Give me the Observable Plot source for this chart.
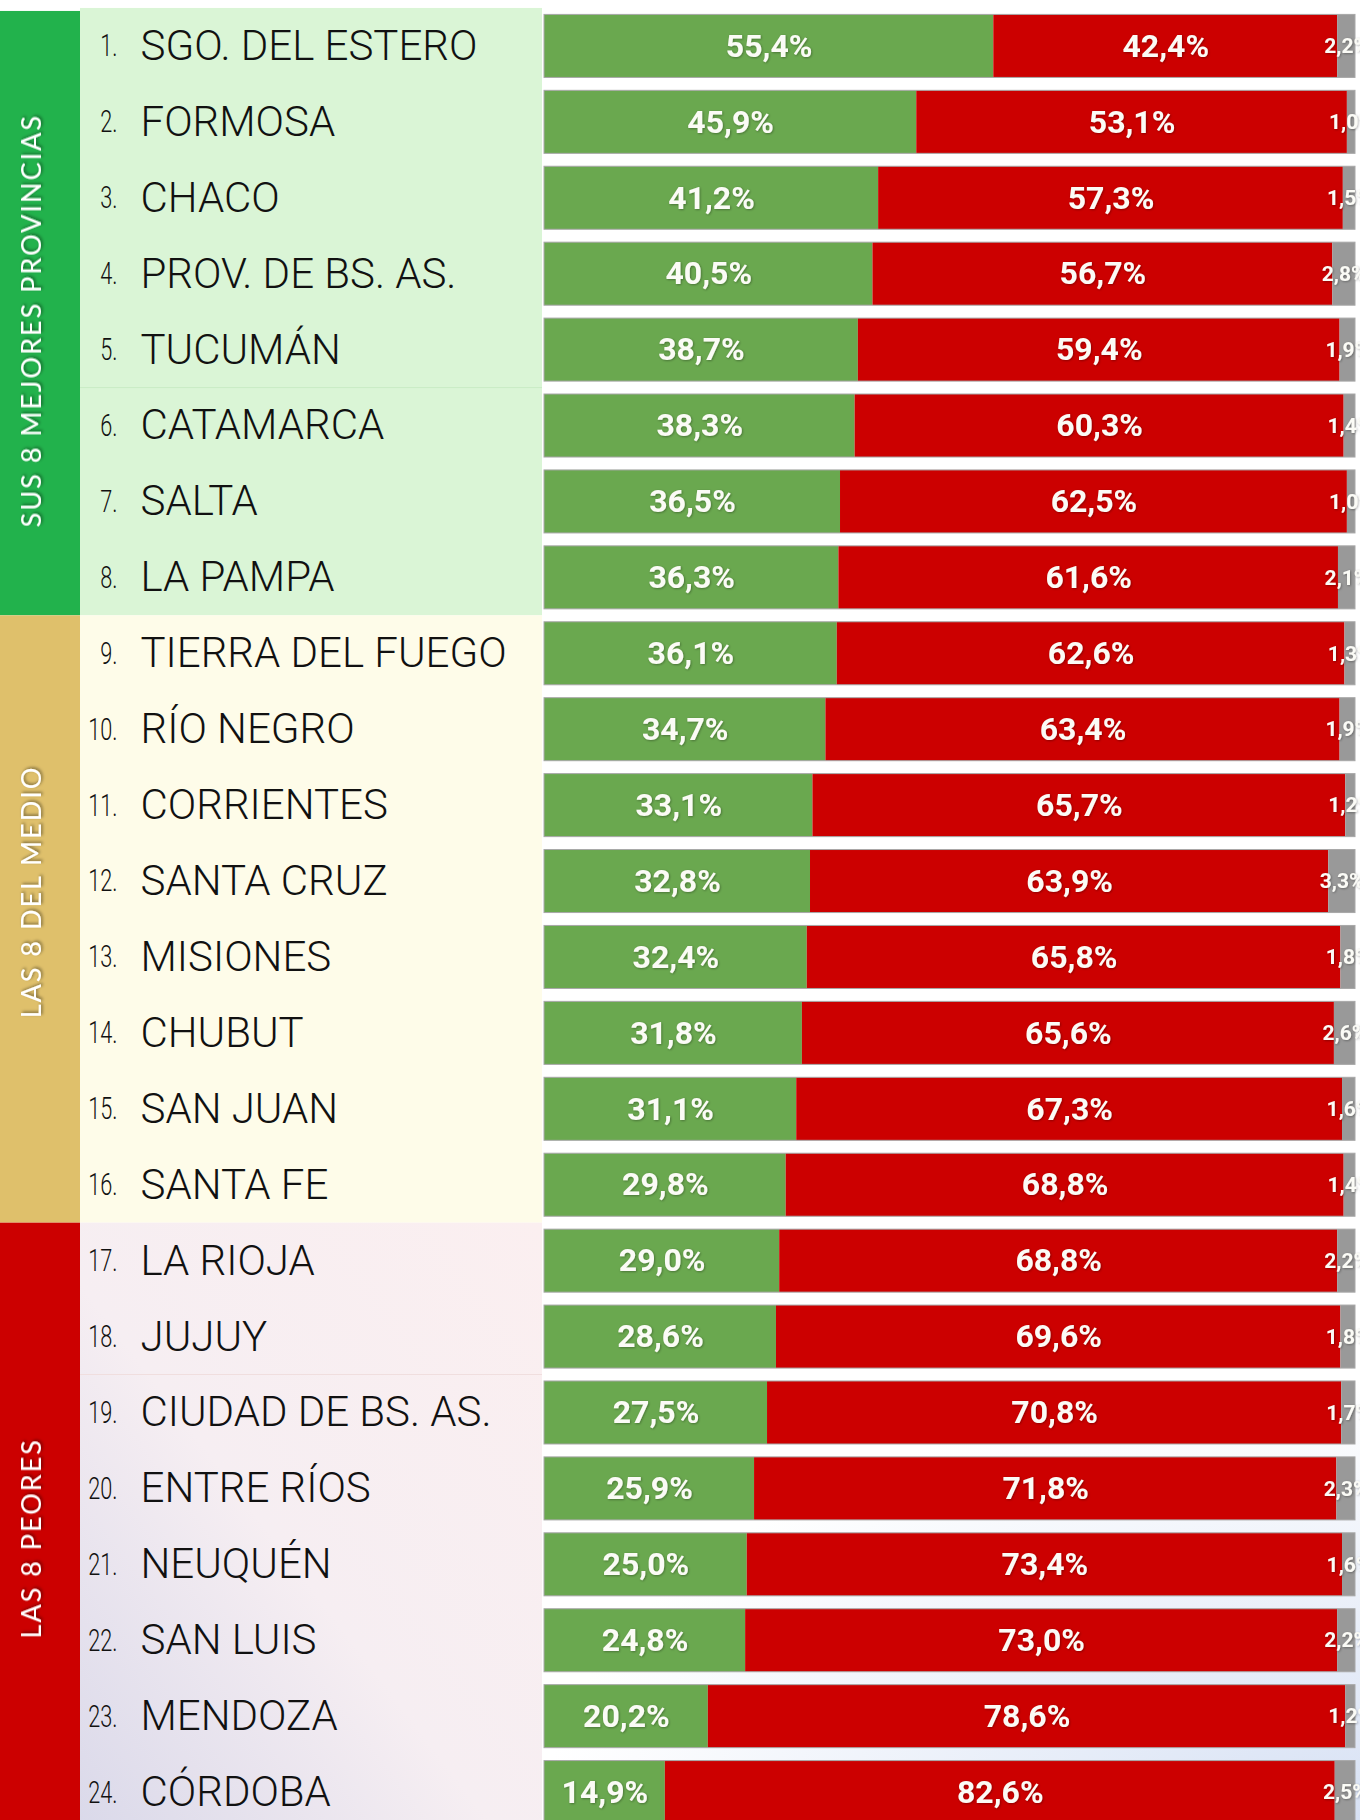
<!DOCTYPE html>
<html><head><meta charset="utf-8">
<script src="https://cdn.jsdelivr.net/npm/d3@7"></script>
<script src="https://cdn.jsdelivr.net/npm/@observablehq/plot@0.6"></script>
<style>
html,body{margin:0;padding:0;background:#fff;}
#chart{width:1360px;height:1820px;overflow:hidden;position:relative;}
#chart svg{display:block;}
</style></head><body><div id="chart"></div>
<script>
const provinces = ["SGO. DEL ESTERO","FORMOSA","CHACO","PROV. DE BS. AS.","TUCUMÁN","CATAMARCA","SALTA","LA PAMPA",
  "TIERRA DEL FUEGO","RÍO NEGRO","CORRIENTES","SANTA CRUZ","MISIONES","CHUBUT","SAN JUAN","SANTA FE",
  "LA RIOJA","JUJUY","CIUDAD DE BS. AS.","ENTRE RÍOS","NEUQUÉN","SAN LUIS","MENDOZA","CÓRDOBA"];
const greenShare = [55.4,45.9,41.2,40.5,38.7,38.3,36.5,36.3,36.1,34.7,33.1,32.8,32.4,31.8,31.1,29.8,29.0,28.6,27.5,25.9,25.0,24.8,20.2,14.9];
const redShare   = [42.4,53.1,57.3,56.7,59.4,60.3,62.5,61.6,62.6,63.4,65.7,63.9,65.8,65.6,67.3,68.8,68.8,69.6,70.8,71.8,73.4,73.0,78.6,82.6];
const otherShare = [2.2,1.0,1.5,2.8,1.9,1.4,1.0,2.1,1.3,1.9,1.2,3.3,1.8,2.6,1.6,1.4,2.2,1.8,1.7,2.3,1.6,2.2,1.2,2.5];
const groupNames = ["SUS 8 MEJORES PROVINCIAS","LAS 8 DEL MEDIO","LAS 8 PEORES"];
const groupSize = 8;
const seriesNames = ["verde","rojo","otros"];
const seriesColors = ["#6aa84f","#cc0000","#999999"];
const bandColors = ["#22b24c","#dfc06b","#cc0000"];
const panelColors = ["#daf5d6","#fefce9","#fbeff0"];

const rows = provinces.map((name,i)=>({name, rank:i+1, group:Math.floor(i/groupSize)}));
const long = rows.flatMap((r,i)=>[
  {name:r.name, series:"verde", value:greenShare[i]},
  {name:r.name, series:"rojo", value:redShare[i]},
  {name:r.name, series:"otros", value:otherShare[i]}
]);
const fmt = v => v.toFixed(1).replace(".",",")+"%";

const chart = Plot.plot({
  width:1360, height:1820,
  marginLeft:544, marginRight:5, marginTop:0, marginBottom:0,
  x:{domain:[0,100], axis:null},
  y:{domain:provinces, range:[1.5,1836.5], padding:0.17, round:false, axis:null},
  color:{domain:seriesNames, range:seriesColors},
  style:{background:"transparent", overflow:"visible"},
  marks:[
    Plot.barX(long, Plot.stackX({x:"value", y:"name", fill:"series", order:null})),
    Plot.barX(rows, {x1:0, x2:100, y:"name", fill:"none", stroke:"#a8a8a8", strokeWidth:1}),
    Plot.text(long, Plot.stackX({x:"value", y:"name", z:"series", order:null,
      text:d=>d.series==="otros"?"":fmt(d.value), fill:"#fbfbf6", fontSize:32, fontWeight:"bold",
      fontFamily:"Roboto", className:"barlab"})),
    Plot.text(long, Plot.stackX({x:"value", y:"name", z:"series", order:null,
      text:d=>d.series==="otros"?fmt(d.value):"", fill:"#fbfbf6", fontSize:21, fontWeight:"bold",
      fontFamily:"Roboto", className:"otherlab"})),
    Plot.text(rows, {y:"name", text:d=>d.rank+".", frameAnchor:"left", dx:-427, textAnchor:"end",
      fontSize:31, fontWeight:300, fontFamily:"Roboto", fill:"#111", className:"ranklab"}),
    Plot.text(rows, {y:"name", text:"name", frameAnchor:"left", dx:-404, textAnchor:"start",
      fontSize:42, fontWeight:300, fontFamily:"Roboto", fill:"#111", className:"namelab"})
  ]
});
document.getElementById("chart").appendChild(chart);

// decorations drawn with the plot's own y scale
const svg = d3.select(chart);
const ys = chart.scale("y");
const step = ys.step ?? ((ys.range[1]-ys.range[0])/provinces.length);
const bw = ys.bandwidth ?? step*0.83;
const pad = (step-bw)/2;
const defs = svg.insert("defs", ":first-child");
defs.append("filter").attr("id","shadow").attr("x","-20%").attr("y","-20%").attr("width","140%").attr("height","140%")
  .append("feDropShadow").attr("dx",1.5).attr("dy",1.5).attr("stdDeviation",1.5).attr("flood-color","#000").attr("flood-opacity",0.45);
defs.append("filter").attr("id","tshadow")
  .append("feDropShadow").attr("dx",0.8).attr("dy",0.8).attr("stdDeviation",0.8).attr("flood-color","#000").attr("flood-opacity",0.35);
const lg = defs.append("linearGradient").attr("id","bottomfade").attr("x1",1).attr("y1",0).attr("x2",0).attr("y2",1);
lg.append("stop").attr("offset",0).attr("stop-color","#fbeff0");
lg.append("stop").attr("offset",0.55).attr("stop-color","#f6eef2");
lg.append("stop").attr("offset",1).attr("stop-color","#dad9ea");
const rg = defs.append("radialGradient").attr("id","cornerfade").attr("cx",1).attr("cy",1).attr("r",1);
rg.append("stop").attr("offset",0).attr("stop-color","#d7e1f4");
rg.append("stop").attr("offset",1).attr("stop-color","#ffffff");

const labelShift = [9,-27,12];
const bg = svg.insert("g", "defs + *");
bg.append("rect").attr("x",544).attr("y",1380).attr("width",816).attr("height",440).attr("fill","url(#cornerfade)");
groupNames.forEach((g,gi)=>{
  const first = provinces[gi*groupSize], last = provinces[gi*groupSize+groupSize-1];
  const top = ys.apply(first)-pad;
  const bottom = ys.apply(last)+bw+pad;
  bg.append("rect").attr("x",80).attr("y",top).attr("width",462).attr("height",bottom-top)
    .attr("fill", gi===2 ? "url(#bottomfade)" : panelColors[gi]);
  bg.append("rect").attr("x",0).attr("y",top+(gi===0?3:0)).attr("width",80).attr("height",bottom-top-(gi===0?3:0))
    .attr("fill",bandColors[gi]);
  const cy = (top+bottom)/2 + labelShift[gi];
  bg.append("text").attr("transform",`translate(31,${cy}) rotate(-90)`)
    .attr("text-anchor","middle").attr("dy","0.36em")
    .attr("font-family","Lato, 'Open Sans', sans-serif").attr("font-size",27).attr("letter-spacing",2)
    .attr("fill","#fff").attr("filter","url(#shadow)").text(g);
});
// faint separators inside the label panel
[5,18].forEach(a=>{
  const yy = ys.apply(provinces[a])-pad;
  bg.append("line").attr("x1",80).attr("x2",542).attr("y1",yy).attr("y2",yy)
    .attr("stroke", a<8 ? "#c9ecc6" : "#f0dede").attr("stroke-width",1);
});
// condensed rank numbers
svg.selectAll(".ranklab text").each(function(){
  const w = this.getComputedTextLength();
  this.setAttribute("textLength", w*0.7);
  this.setAttribute("lengthAdjust","spacingAndGlyphs");
});
svg.selectAll(".barlab text, .otherlab text").attr("filter","url(#tshadow)");
</script>
</body></html>
